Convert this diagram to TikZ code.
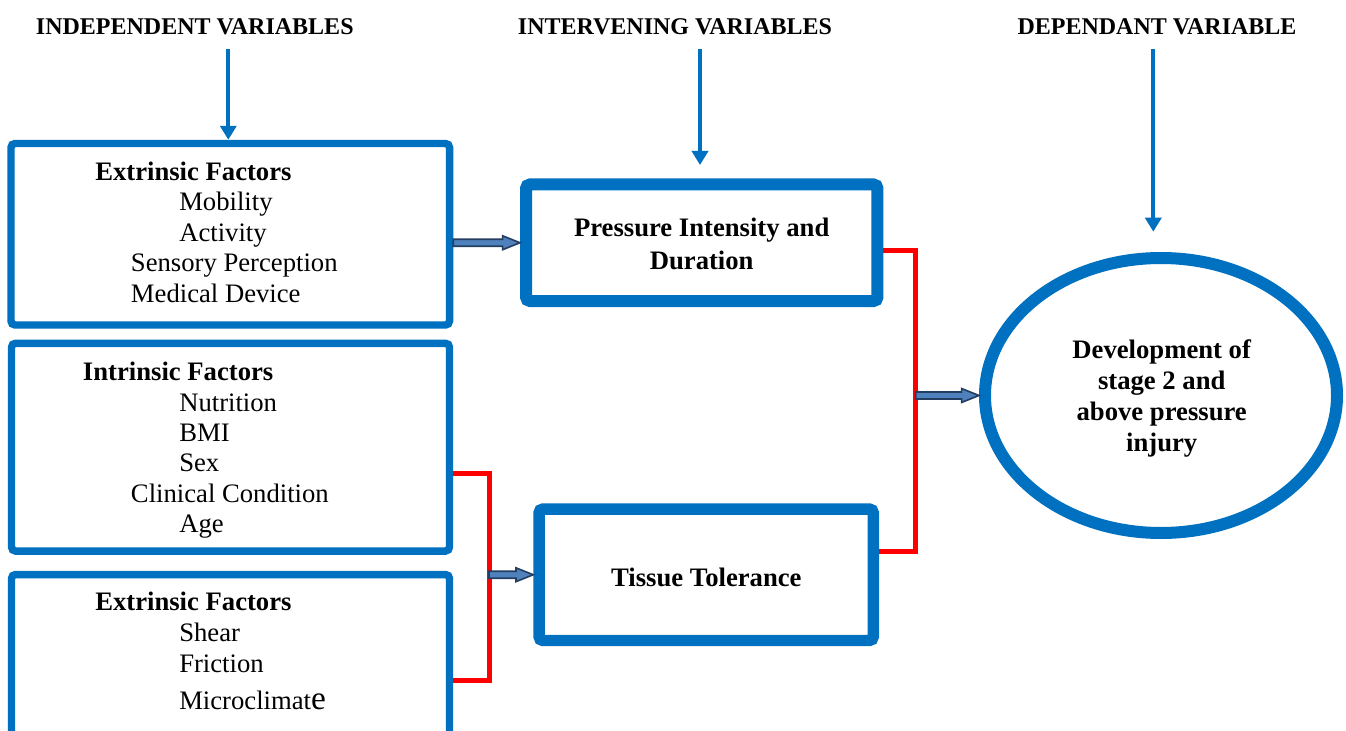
\documentclass[tikz,border=0pt]{standalone}
\usepackage{fontspec}
\setmainfont{Liberation Serif}
\usetikzlibrary{arrows.meta,calc,shapes.geometric}
\definecolor{bblue}{RGB}{0,112,192}
\definecolor{rred}{RGB}{255,0,0}
\definecolor{afill}{RGB}{79,129,189}
\definecolor{adark}{RGB}{36,62,98}
\begin{document}
\begin{tikzpicture}[x=0.75pt,y=-0.75pt,
  fbox/.style={draw=bblue, rounded corners=3pt, inner sep=0pt, anchor=center},
  thinbox/.style={fbox, line width=5.6pt},
  thickbox/.style={fbox, line width=9pt},
  hdr/.style={font=\fontsize{18}{21}\selectfont\bfseries, anchor=base, inner sep=0pt},
  boldtext/.style={font=\fontsize{20}{23}\selectfont\bfseries, inner sep=0pt},
  itemtext/.style={font=\fontsize{20}{23}\selectfont, inner sep=0pt, anchor=base west},
  varrow/.style={draw=bblue, line width=3pt, -{Triangle[width=12pt,length=10.5pt]}},
  redline/.style={draw=rred, line width=3.75pt},
  blockarrow/.style={draw=adark, fill=afill, line width=1.2pt, line join=miter,
    to path={let \p1=(\tikztostart), \p2=(\tikztotarget) in
      (\x1,\y1+2.6pt) -- (\x2-13pt,\y1+2.6pt) -- (\x2-13pt,\y1+5.2pt) -- (\x2,\y1)
      -- (\x2-13pt,\y1-5.2pt) -- (\x2-13pt,\y1-2.6pt) -- (\x1,\y1-2.6pt) -- cycle}}
]
\useasboundingbox (0,0) rectangle (1346,731);
\clip (0,0) rectangle (1346,731);

% headers
\node[hdr] (h1) at (194.8,35) {INDEPENDENT VARIABLES};
\node[hdr] (h2) at (675,35) {INTERVENING VARIABLES};
\node[hdr] (h3) at (1157,35) {DEPENDANT VARIABLE};

% boxes
\node[thinbox, minimum width=328.9pt, minimum height=136.1pt] (box1) at (230.25,234.25) {};
\node[thinbox, minimum width=328.5pt, minimum height=155.8pt] (box2) at (230.5,447.15) {};
\node[thinbox, minimum width=328.5pt, minimum height=169.1pt] (box3) at (230.5,687.25) {};
\node[thickbox, minimum width=263.6pt, minimum height=87.4pt] (press) at (701.75,242.75) {};
\node[thickbox, line width=8.6pt, minimum width=250.7pt, minimum height=98.6pt] (tissue) at (706.15,574.75) {};
\node[draw=bblue, line width=9pt, ellipse, minimum width=264pt, minimum height=206.25pt, inner sep=0pt] (dev) at (1161,395.5) {};

% box 1 text
\node[boldtext, anchor=base west] (t11) at (95,180.7) {Extrinsic Factors};
\node[itemtext] (t12) at (179,211) {Mobility};
\node[itemtext] (t13) at (179,241.7) {Activity};
\node[itemtext] (t14) at (130.7,271.7) {Sensory Perception};
\node[itemtext] (t15) at (130.7,302.3) {Medical Device};

% box 2 text
\node[boldtext, anchor=base west] (t21) at (82.7,380.7) {Intrinsic Factors};
\node[itemtext] (t22) at (179,411) {Nutrition};
\node[itemtext] (t23) at (179,441.3) {BMI};
\node[itemtext] (t24) at (179,471.7) {Sex};
\node[itemtext] (t25) at (130.7,502.3) {Clinical Condition};
\node[itemtext] (t26) at (179,532.3) {Age};

% box 3 text
\node[boldtext, anchor=base west] (t31) at (95,610.7) {Extrinsic Factors};
\node[itemtext] (t32) at (179,641.7) {Shear};
\node[itemtext] (t33) at (179,672.3) {Friction};
\node[itemtext] (t34) at (179,709) {Microclimat{\fontsize{25}{25}\selectfont e}};

% intervening text
\node[boldtext, anchor=base] (tp1) at (701.7,236.7) {Pressure Intensity and};
\node[boldtext, anchor=base] (tp2) at (701.7,269) {Duration};
\node[boldtext, anchor=base] (tt1) at (706.3,586.7) {Tissue Tolerance};

% dependent text
\node[boldtext, anchor=base] (td1) at (1161.7,358) {Development of};
\node[boldtext, anchor=base] (td2) at (1161.7,389) {stage 2 and};
\node[boldtext, anchor=base] (td3) at (1161.7,420) {above pressure};
\node[boldtext, anchor=base] (td4) at (1161.7,451) {injury};

% header arrows
\coordinate (a1s) at (228.3,49.3);
\coordinate (a2s) at (700,49.3);
\coordinate (a2e) at (700,165);
\coordinate (a3s) at (1153.3,49.3);
\coordinate (a3e) at (1153.3,231.7);
\draw[varrow] (a1s) -- (a1s |- box1.north);
\draw[varrow] (a2s) -- (a2e);
\draw[varrow] (a3s) -- (a3e);

% red brackets
\coordinate (r1top) at (915.7,250);
\coordinate (r1bot) at (915.7,551.7);
\draw[redline] (r1top -| press.east) -- (r1top) -- (r1bot) -- (r1bot -| tissue.east);
\coordinate (r2top) at (489,473.3);
\coordinate (r2bot) at (489,680);
\draw[redline] (r2top -| box2.east) -- (r2top) -- (r2bot) -- (r2bot -| box3.east);

% block arrows
\draw[blockarrow] (press.west -| box1.east) to (press.west);
\draw[blockarrow] (r1top |- dev.west) to (dev.west);
\draw[blockarrow] (r2top |- tissue.west) to (tissue.west);
\end{tikzpicture}
\end{document}
